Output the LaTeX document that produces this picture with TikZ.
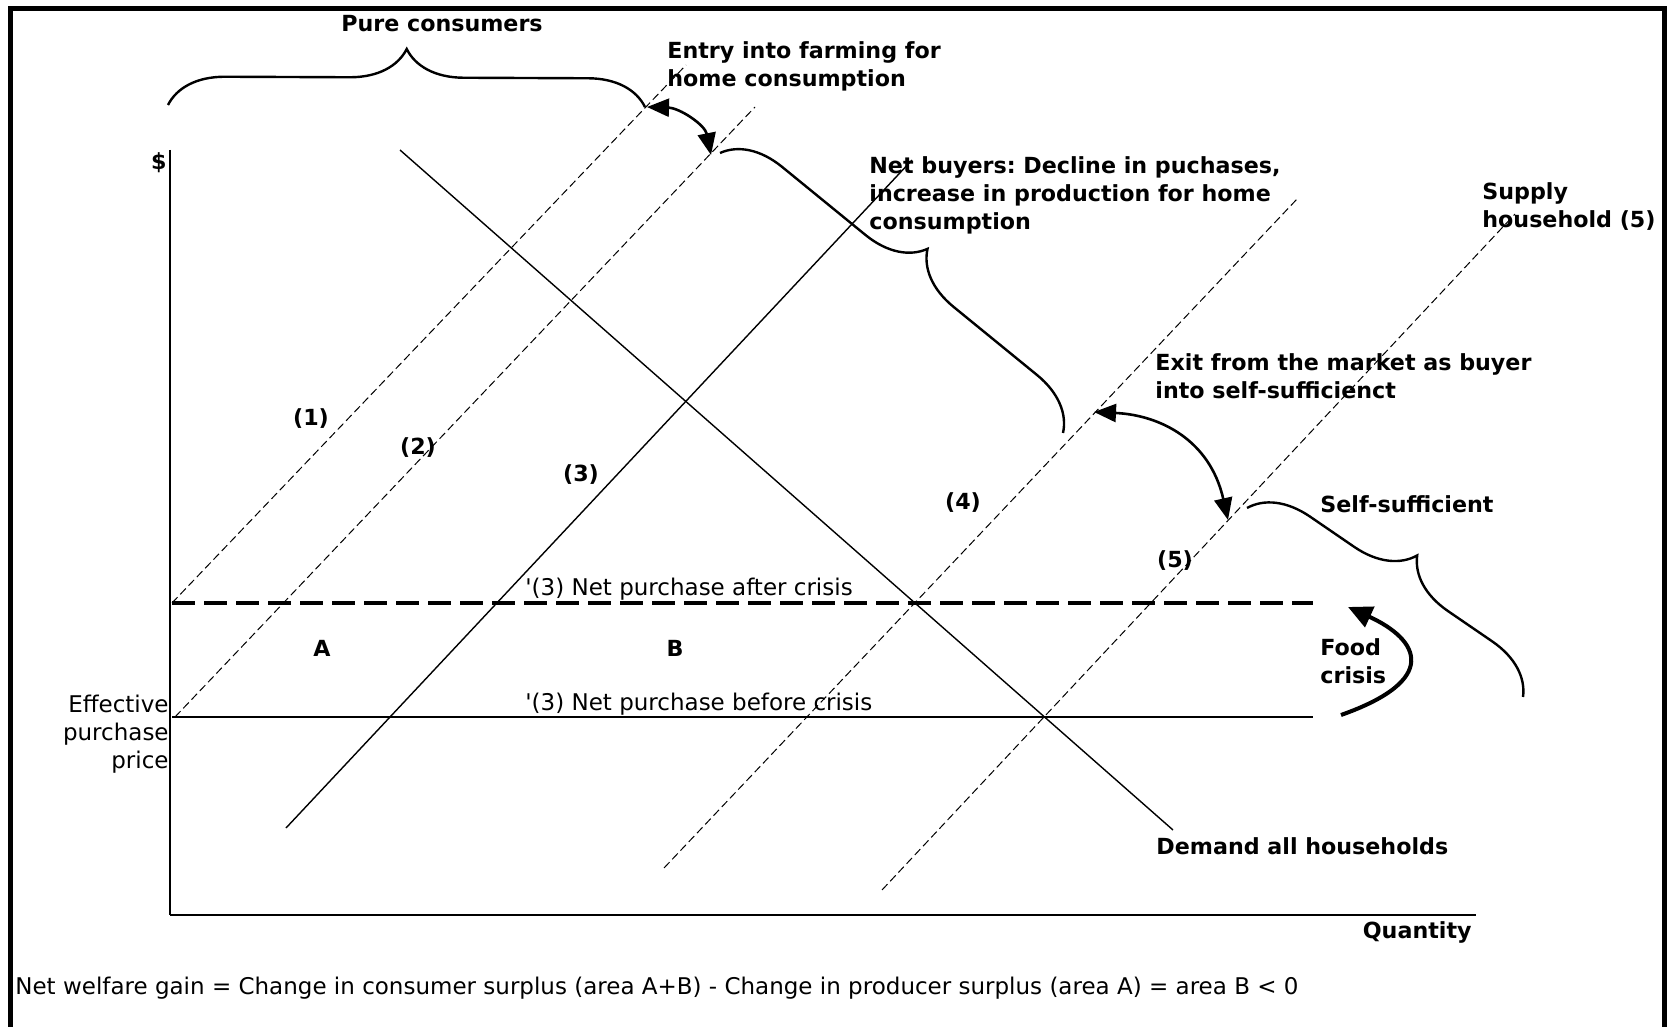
\documentclass[tikz,border=0pt]{standalone}
\usepackage{fontspec}
\setmainfont{DejaVu Sans}
\usepackage{tikz}
\usetikzlibrary{arrows.meta, decorations.pathreplacing}
\frenchspacing
\tikzstyle{plaintext} = [inner sep=0pt, align=left, font=\fontsize{11.5}{14}\selectfont]
\tikzstyle{boldtext} = [inner sep=0pt, align=left, font=\fontsize{11.1}{14}\selectfont\bfseries]
\tikzstyle{demandline} = [line width=0.7pt]
\tikzstyle{supplyline} = [line width=0.5pt, dash pattern=on 4pt off 2pt]
\tikzstyle{crisisline} = [line width=2pt, dash pattern=on 11.5pt off 4.5pt]
\tikzstyle{curlybrace} = [line width=1.2pt, decorate, decoration={brace, amplitude=28.5pt}]
\tikzstyle{arrow} = [line width=1.3pt, {Triangle[length=11pt,width=9pt]}-{Triangle[length=11pt,width=9pt]}]
\tikzstyle{crisisarrow} = [line width=2pt, -{Triangle[length=12pt,width=11pt]}]

\begin{document}
\begin{tikzpicture}[x=0.5pt, y=-0.5pt]
        \useasboundingbox (0,0) rectangle (1667,1027);
        \draw[line width=2.5pt] (10,1027) -- (10,8.5) -- (1664.5,8.5) -- (1664.5,1027);

        % axes
        \coordinate (origin) at (170,915);
        \coordinate (ytop)   at (170,150);
        \coordinate (xend)   at (1476,915);
        \draw[line width=0.8pt] (ytop) -- (origin);
        \draw[line width=1pt]   (origin) -- (xend);
        \node[boldtext, anchor=east] (dollar)   at (167,163)  {\$};
        \node[boldtext, anchor=east] (quantity) at (1472,932) {Quantity};

        % price before and after the crisis
        \coordinate (after l)  at (172,603);
        \coordinate (after r)  at (1313,603);
        \coordinate (before l) at (172,717);
        \coordinate (before r) at (1313,717);
        \draw[crisisline] (after l) -- (after r);
        \draw[demandline] (before l) -- (before r);

        % supply of the households
        \coordinate (s1 lo) at (172,603);  \coordinate (s1 hi) at (686,65);
        \coordinate (s2 lo) at (175,717);  \coordinate (s2 hi) at (755,107);
        \coordinate (s3 lo) at (286,828);  \coordinate (s3 hi) at (912,160);
        \coordinate (s4 lo) at (664,868);  \coordinate (s4 hi) at (1298,198);
        \coordinate (s5 lo) at (882,890);  \coordinate (s5 hi) at (1515,214);
        \draw[supplyline] (s1 lo) -- (s1 hi);
        \draw[supplyline] (s2 lo) -- (s2 hi);
        \draw[demandline] (s3 lo) -- (s3 hi);
        \draw[supplyline] (s4 lo) -- (s4 hi);
        \draw[supplyline] (s5 lo) -- (s5 hi);

        % demand
        \coordinate (d hi) at (400,150);
        \coordinate (d lo) at (1173,830);
        \draw[demandline] (d hi) -- (d lo);

        % braces
        \draw[curlybrace] (168,105) -- (645,107);
        \draw[curlybrace] (720,153) -- (1063,433);
        \draw[curlybrace] (1247,508) -- (1523,697);

        % arrows
        \coordinate (entry a) at (647,107);
        \coordinate (entry b) at (711,155);
        \coordinate (exit a)  at (1094,412);
        \coordinate (exit b)  at (1228,520);
        \coordinate (food a)  at (1341,715);
        \coordinate (food b)  at (1348,607);
        \draw[arrow] (entry a) .. controls (680,108) and (705,125) .. (entry b);
        \draw[arrow] (exit a) .. controls (1160,415) and (1210,440) .. (exit b);
        \draw[crisisarrow] (food a) .. controls (1440,680) and (1420,640) .. (food b);

        % labels
        \node[boldtext] (pure) at (442,24) {Pure consumers};
        \node[boldtext, anchor=west] (entry)  at (667,66)   {Entry into farming for\\home consumption};
        \node[boldtext, anchor=west] (netbuy) at (869,195)  {Net buyers: Decline in puchases,\\increase in production for home\\consumption};
        \node[boldtext, anchor=west] (supply) at (1482,207) {Supply\\household (5)};
        \node[boldtext, anchor=west] (exit)   at (1155,376) {Exit from the market as buyer\\into self-sufficienct};
        \node[boldtext, anchor=west] (selfsuff) at (1320,504) {Self-sufficient};
        \node[boldtext, anchor=west] (food)   at (1320,661) {Food\\crisis};
        \node[boldtext] (n1) at (311,419) {(1)};
        \node[boldtext] (n2) at (418,448) {(2)};
        \node[boldtext] (n3) at (581,475) {(3)};
        \node[boldtext] (n4) at (963,503) {(4)};
        \node[boldtext] (n5) at (1175,561) {(5)};
        \node[boldtext] (area a) at (322,648) {A};
        \node[boldtext] (area b) at (675,648) {B};
        \node[plaintext, anchor=west] (after)  at (525,589) {\textquotesingle(3) Net purchase after crisis};
        \node[plaintext, anchor=west] (before) at (525,704) {\textquotesingle(3) Net purchase before crisis};
        \node[plaintext, anchor=east, align=right] (price) at (169,734) {Effective\\purchase\\price};
        \node[boldtext, anchor=west] (demand) at (1156,846) {Demand all households};
        \node[plaintext, anchor=base west] (welfare) at (15,994) {Net welfare gain = Change in consumer surplus (area A+B) - Change in producer surplus (area A) = area B < 0};
    \end{tikzpicture}
\end{document}
